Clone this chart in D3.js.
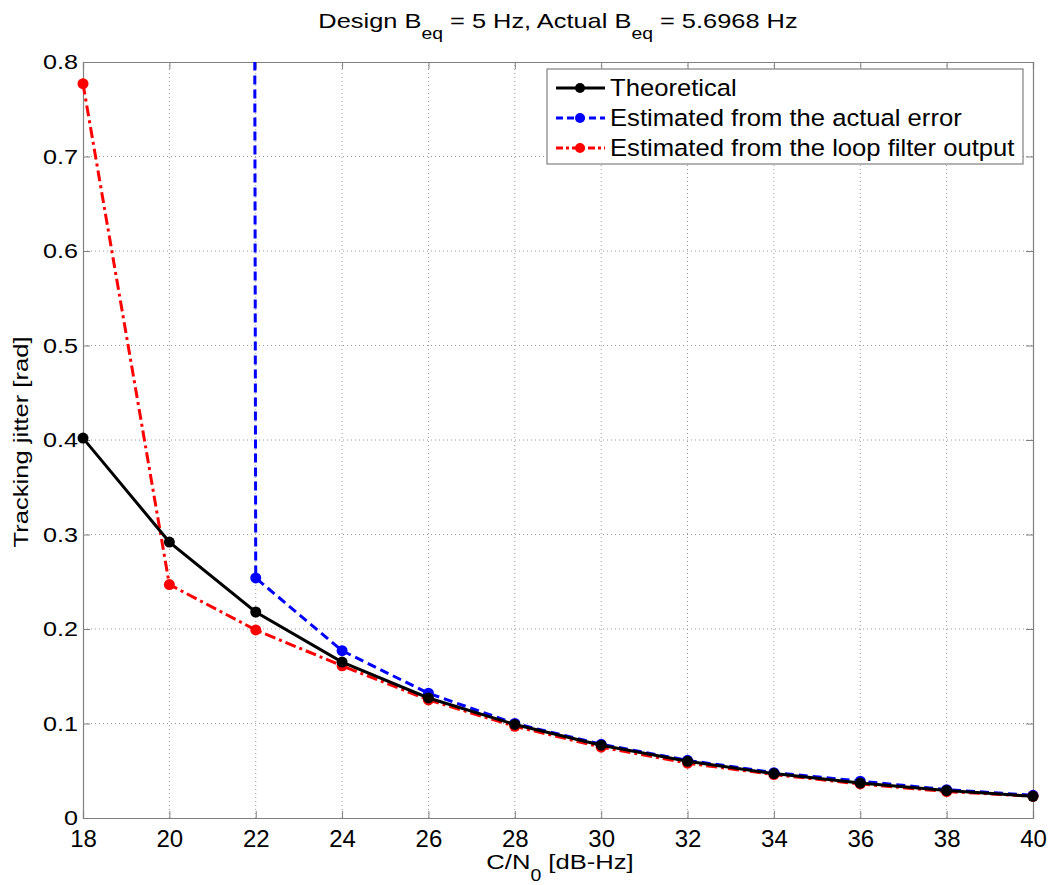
<!DOCTYPE html>
<html>
<head>
<meta charset="utf-8">
<script src="https://cdn.jsdelivr.net/npm/d3@7"></script>
<style>
  body { margin: 0; background: #fff; }
  text { font-family: "Liberation Sans", Arial, sans-serif; fill: #000; }
</style>
</head>
<body>
<svg id="chart"></svg>
<script>
// data
let cn0 = [18, 20, 22, 24, 26, 28, 30, 32, 34, 36, 38, 40];
let theoretical = [0.402, 0.292, 0.218, 0.165, 0.127, 0.099, 0.077, 0.060, 0.047, 0.037, 0.029, 0.023];
// points at 18 and 20 are far off the top of the axes
let fromError = [60, 50, 0.254, 0.177, 0.132, 0.100, 0.078, 0.061, 0.048, 0.039, 0.030, 0.024];
let fromLoop = [0.777, 0.247, 0.199, 0.161, 0.125, 0.097, 0.075, 0.058, 0.046, 0.036, 0.028, 0.023];
let xTicks = [18, 20, 22, 24, 26, 28, 30, 32, 34, 36, 38, 40];
let yTicks = [0, 0.1, 0.2, 0.3, 0.4, 0.5, 0.6, 0.7, 0.8];
let seriesNames = ["Theoretical", "Estimated from the actual error", "Estimated from the loop filter output"];
let seriesColors = ["#000000", "#0000ff", "#ff0000"];
let seriesDash = [null, "9,5", "11,4,3,4"];

let w = 1054;
let h = 885;
let m = { left: 83, right: 21, top: 62, bottom: 67 };

let svg = d3.select("#chart").attr("width", w).attr("height", h);

let xScale = d3.scaleLinear().domain([18, 40]).range([m.left, w - m.right]);
let yScale = d3.scaleLinear().domain([0, 0.8]).range([h - m.bottom, m.top]);

// the reference font runs wider than Liberation Sans, so stretch along the text
let stretch = (sel, sx) => {
  sel.each(function () {
    let t = d3.select(this);
    let x = +t.attr("x") || 0;
    let y = +t.attr("y") || 0;
    t.attr("transform", `translate(${x},${y}) scale(${sx},1) translate(${-x},${-y})`);
  });
};

// grid
let grid = svg.append("g").attr("stroke", "#9a9a9a").attr("stroke-width", 1).attr("stroke-dasharray", "1,3");
grid.selectAll(".gx").data(xTicks.slice(1, -1)).enter().append("line")
  .attr("x1", (d) => xScale(d)).attr("x2", (d) => xScale(d))
  .attr("y1", yScale(0)).attr("y2", yScale(0.8));
grid.selectAll(".gy").data(yTicks.slice(1, -1)).enter().append("line")
  .attr("y1", (d) => yScale(d)).attr("y2", (d) => yScale(d))
  .attr("x1", xScale(18)).attr("x2", xScale(40));

// axes (ticks inside, matlab style)
let xAxis = d3.axisBottom(xScale).tickValues(xTicks).tickSize(-7).tickPadding(12).tickFormat(d3.format("d"));
let yAxis = d3.axisLeft(yScale).tickValues(yTicks).tickSize(-7).tickPadding(5).tickFormat((d) => d === 0 ? "0" : d3.format(".1f")(d));
let xTop = d3.axisTop(xScale).tickValues(xTicks).tickSize(-7).tickFormat("");
let yRight = d3.axisRight(yScale).tickValues(yTicks).tickSize(-7).tickFormat("");

let gx = svg.append("g").attr("transform", `translate(0, ${yScale(0)})`).call(xAxis);
let gy = svg.append("g").attr("transform", `translate(${xScale(18)}, 0)`).call(yAxis);
let axes = [
  gx, gy,
  svg.append("g").attr("transform", `translate(0, ${yScale(0.8)})`).call(xTop),
  svg.append("g").attr("transform", `translate(${xScale(40)}, 0)`).call(yRight)
];
axes.forEach((g) => {
  g.select(".domain").attr("stroke", "#808080").attr("stroke-width", 1.2);
  g.selectAll(".tick line").attr("stroke", "#808080");
  g.selectAll(".tick text").attr("fill", "#000");
});
gx.selectAll(".tick text").style("font-size", "24px");
gy.selectAll(".tick text").style("font-size", "21px").call(stretch, 1.2);

// clip for lines
svg.append("clipPath").attr("id", "plotclip").append("rect")
  .attr("x", xScale(18) - 8).attr("y", yScale(0.8))
  .attr("width", xScale(40) - xScale(18) + 16).attr("height", yScale(0) - yScale(0.8) + 8);

let allSeries = [theoretical, fromError, fromLoop];
let line = d3.line().x((d, i) => xScale(cn0[i])).y((d) => yScale(d));
let plot = svg.append("g").attr("clip-path", "url(#plotclip)");

[1, 2, 0].forEach((k) => {
  let g = plot.append("g");
  g.append("path").datum(allSeries[k])
    .attr("d", line)
    .attr("fill", "none")
    .attr("stroke", seriesColors[k])
    .attr("stroke-width", 3)
    .attr("stroke-dasharray", seriesDash[k]);
  g.selectAll("circle").data(allSeries[k].map((v, i) => [cn0[i], v]).filter((d) => d[1] <= 0.8))
    .enter().append("circle")
    .attr("cx", (d) => xScale(d[0]))
    .attr("cy", (d) => yScale(d[1]))
    .attr("r", 5.5)
    .attr("fill", seriesColors[k]);
});

// title
let title = svg.append("text").attr("x", 558).attr("y", 28).attr("text-anchor", "middle").style("font-size", "21px");
title.append("tspan").text("Design B");
title.append("tspan").attr("dy", 11).style("font-size", "16px").text("eq");
title.append("tspan").attr("dy", -11).text(" = 5 Hz, Actual B");
title.append("tspan").attr("dy", 11).style("font-size", "16px").text("eq");
title.append("tspan").attr("dy", -11).text(" = 5.6968 Hz");
title.call(stretch, 1.21);

// x label
let xl = svg.append("text").attr("x", 560).attr("y", 869).attr("text-anchor", "middle").style("font-size", "21px");
xl.append("tspan").text("C/N");
xl.append("tspan").attr("dy", 12).style("font-size", "16px").text("0");
xl.append("tspan").attr("dy", -12).text(" [dB-Hz]");
xl.call(stretch, 1.22);

// y label
svg.append("text")
  .attr("transform", `translate(28, ${yScale(0.4) + 2}) rotate(-90) scale(1.22,1)`)
  .attr("text-anchor", "middle")
  .style("font-size", "21px")
  .text("Tracking jitter [rad]");

// legend
let lg = svg.append("g").attr("transform", "translate(547, 69)");
lg.append("rect").attr("width", 476).attr("height", 95).attr("fill", "#fff").attr("stroke", "#808080").attr("stroke-width", 1.2);
seriesNames.forEach((name, k) => {
  let y = 19 + k * 30;
  lg.append("line").attr("x1", 9).attr("x2", 58).attr("y1", y).attr("y2", y)
    .attr("stroke", seriesColors[k]).attr("stroke-width", 3)
    .attr("stroke-dasharray", seriesDash[k] ? (k === 1 ? "7,4" : "7,3,3,3") : null);
  lg.append("circle").attr("cx", 33).attr("cy", y).attr("r", 5).attr("fill", seriesColors[k]);
  lg.append("text").attr("x", 63).attr("y", y + 8).style("font-size", "23.3px").text(name).call(stretch, 1.1);
});
</script>
</body>
</html>
